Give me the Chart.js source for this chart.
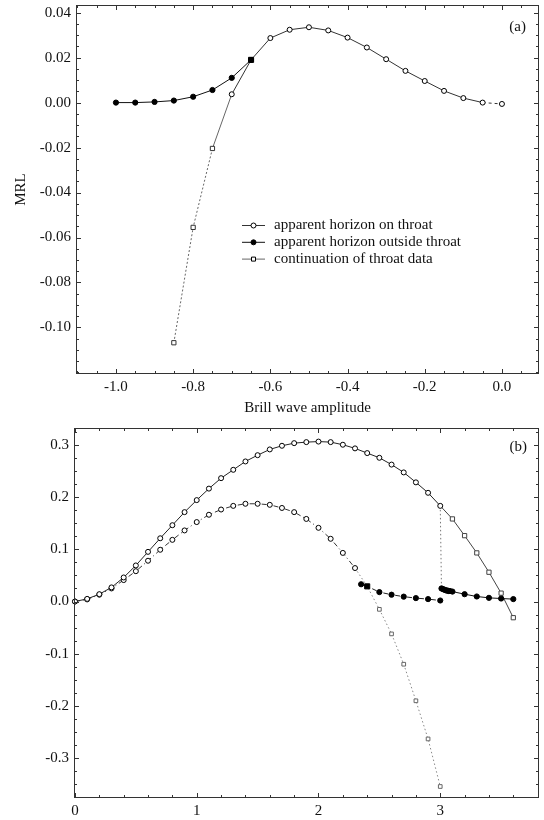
<!DOCTYPE html>
<html><head><meta charset="utf-8">
<script src="https://cdn.jsdelivr.net/npm/chart.js@4.4.1/dist/chart.umd.min.js"></script>
<style>
html,body{margin:0;padding:0;background:#fff;}
#wa{position:absolute;left:0;top:0;width:544px;height:420px;}
#wb{position:absolute;left:0;top:420px;width:544px;height:400px;}
</style></head><body>
<div id="wa"><canvas id="ca" width="544" height="420"></canvas></div>
<div id="wb"><canvas id="cb" width="544" height="400"></canvas></div>
<script>
// ---------- Panel (a) data ----------
const aOutsideX = [-1.0,-0.95,-0.9,-0.85,-0.8,-0.75,-0.7,-0.65];
const aOutsideY = [0.0,0.0,0.0003,0.0009,0.0026,0.0056,0.011,0.019];
const aThroatX = [-0.7,-0.65,-0.6,-0.55,-0.5,-0.45,-0.4,-0.35,-0.3,-0.25,-0.2,-0.15,-0.1,-0.05,0.0];
const aThroatY = [0.0037,0.019,0.0287,0.0324,0.0335,0.0321,0.0289,0.0245,0.0193,0.0141,0.0096,0.0052,0.002,0.0,-0.0006];
const aContX = [-0.85,-0.8,-0.75,-0.7];
const aContY = [-0.1068,-0.0555,-0.0204,0.0037];
const aXTicks = [-1.0,-0.8,-0.6,-0.4,-0.2,0.0];
const aYTicks = [-0.10,-0.08,-0.06,-0.04,-0.02,0.00,0.02,0.04];
const aLegend = ['apparent horizon on throat','apparent horizon outside throat','continuation of throat data'];

// ---------- Panel (b) data ----------
const bUpperX = [0.0,0.1,0.2,0.3,0.4,0.5,0.6,0.7,0.8,0.9,1.0,1.1,1.2,1.3,1.4,1.5,1.6,1.7,1.8,1.9,2.0,2.1,2.2,2.3,2.4,2.5,2.6,2.7,2.8,2.9,3.0];
const bUpperY = [0.0,0.005,0.014,0.027,0.046,0.069,0.095,0.121,0.146,0.171,0.194,0.216,0.236,0.252,0.268,0.280,0.291,0.298,0.303,0.305,0.306,0.305,0.300,0.293,0.284,0.275,0.262,0.247,0.228,0.208,0.183];
const bUpperContX = [3.0,3.1,3.2,3.3,3.4,3.5,3.6];
const bUpperContY = [0.183,0.158,0.126,0.093,0.056,0.016,-0.031];
const bUpperJumpX = [3.0,3.01];
const bUpperJumpY = [0.183,0.025];
const bUpperOutX = [3.01,3.02,3.03,3.04,3.05,3.06,3.07,3.08,3.1,3.2,3.3,3.4,3.5,3.6];
const bUpperOutY = [0.025,0.024,0.023,0.022,0.021,0.021,0.020,0.020,0.019,0.014,0.0096,0.007,0.0057,0.0046];
const bLowerX = [0.0,0.1,0.2,0.3,0.4,0.5,0.6,0.7,0.8,0.9,1.0,1.1,1.2,1.3,1.4,1.5,1.6,1.7,1.8,1.9,2.0,2.1,2.2,2.3];
const bLowerY = [0.0,0.004,0.013,0.025,0.041,0.058,0.078,0.099,0.118,0.136,0.152,0.166,0.176,0.183,0.187,0.187,0.185,0.179,0.171,0.158,0.141,0.120,0.093,0.064];
const bLowerOutX = [2.35,2.4,2.5,2.6,2.7,2.8,2.9,3.0];
const bLowerOutY = [0.033,0.029,0.018,0.013,0.0093,0.0065,0.0046,0.0019];
const bLowerContX = [2.3,2.4,2.5,2.6,2.7,2.8,2.9,3.0];
const bLowerContY = [0.064,0.029,-0.015,-0.062,-0.12,-0.19,-0.263,-0.354];
const bXTicks = [0,1,2,3];
const bYTicks = [-0.3,-0.2,-0.1,0.0,0.1,0.2,0.3];

const FONT = 'Liberation Serif';
const pts = (xs, ys) => xs.map((x, i) => ({x: x, y: ys[i]}));

const framePlugin = {
  id: 'frame',
  afterDatasetsDraw(chart, args, opts) {
    const {ctx, chartArea: {left, right, top, bottom}} = chart;
    const xs = chart.scales.x, ys = chart.scales.y;
    ctx.save();
    ctx.strokeStyle = '#333';
    ctx.lineWidth = 1;
    ctx.strokeRect(Math.round(left) + 0.5, Math.round(top) + 0.5, Math.round(right - left) - 1, Math.round(bottom - top) - 1);
    ctx.beginPath();
    const tickX = (v, len) => {
      const px = Math.round(xs.getPixelForValue(v)) + 0.5;
      if (px < left || px > right) return;
      ctx.moveTo(px, bottom); ctx.lineTo(px, bottom - len);
      ctx.moveTo(px, top); ctx.lineTo(px, top + len);
    };
    const tickY = (v, len) => {
      const py = Math.round(ys.getPixelForValue(v)) + 0.5;
      if (py < top || py > bottom) return;
      ctx.moveTo(left, py); ctx.lineTo(left + len, py);
      ctx.moveTo(right, py); ctx.lineTo(right - len, py);
    };
    opts.xTicks.forEach(v => tickX(v, 5));
    opts.yTicks.forEach(v => tickY(v, 5));
    {
      const k = Math.ceil(xs.min / opts.xMinor - 1e-6);
      for (let j = k; j * opts.xMinor <= xs.max; j++) tickX(j * opts.xMinor, 3);
    }
    {
      const k = Math.ceil(ys.min / opts.yMinor - 1e-6);
      for (let j = k; j * opts.yMinor <= ys.max; j++) tickY(j * opts.yMinor, 3);
    }
    ctx.stroke();
    ctx.fillStyle = '#111';
    ctx.font = '15px "' + FONT + '"';
    ctx.textAlign = 'right';
    ctx.textBaseline = 'middle';
    ctx.fillText(opts.label, right - opts.labelDx, top + opts.labelDy);
    ctx.restore();
  }
};

const legendPlugin = {
  id: 'legendA',
  afterDatasetsDraw(chart, args, opts) {
    if (!opts.items) return;
    const ctx = chart.ctx;
    ctx.save();
    opts.items.forEach((it, i) => {
      const y = opts.y0 + i * opts.dy + 0.5;
      const ds = chart.data.datasets[it.ds];
      ctx.beginPath();
      ctx.strokeStyle = ds.borderColor;
      ctx.lineWidth = 1;
      ctx.setLineDash([]);
      ctx.moveTo(opts.x0, y); ctx.lineTo(opts.x1, y);
      ctx.stroke();
      const mx = (opts.x0 + opts.x1) / 2;
      ctx.beginPath();
      ctx.fillStyle = it.fill;
      ctx.strokeStyle = '#000';
      if (it.shape === 'rect') {
        ctx.rect(mx - 2, y - 2, 4, 4);
      } else {
        ctx.arc(mx, y, 2.5, 0, Math.PI * 2);
      }
      ctx.fill(); ctx.stroke();
      ctx.fillStyle = '#111';
      ctx.font = '15px "' + FONT + '"';
      ctx.textAlign = 'left';
      ctx.textBaseline = 'middle';
      ctx.fillText(aLegend[i], opts.tx, y);
    });
    ctx.restore();
  }
};

const tickFont = {family: FONT, size: 15};
const noPad = s => { s.paddingTop = 0; s.paddingBottom = 0; s.paddingLeft = 0; s.paddingRight = 0; };

function makeScales(cfg) {
  return {
    x: {
      type: 'linear', min: cfg.xmin, max: cfg.xmax,
      grid: {display: false, drawTicks: false}, border: {display: false},
      ticks: {font: tickFont, color: '#111', padding: cfg.xpad, maxRotation: 0, autoSkip: false,
        callback: v => cfg.xfmt(v)},
      afterBuildTicks: s => { s.ticks = cfg.xticks.map(v => ({value: v})); },
      afterFit: s => { s.height = cfg.xh; noPad(s); },
      title: cfg.xtitle ? {display: true, text: cfg.xtitle, font: {family: FONT, size: 15}, color: '#111', padding: {top: 0, bottom: 3}} : {display: false}
    },
    y: {
      type: 'linear', min: cfg.ymin, max: cfg.ymax,
      grid: {display: false, drawTicks: false}, border: {display: false},
      ticks: {font: tickFont, color: '#111', padding: 5, autoSkip: false,
        callback: v => cfg.yfmt(v)},
      afterBuildTicks: s => { s.ticks = cfg.yticks.map(v => ({value: v})); },
      afterFit: s => { s.width = cfg.yw; noPad(s); },
      title: cfg.ytitle ? {display: true, text: cfg.ytitle, font: {family: FONT, size: 15}, color: '#111', padding: {top: 12, bottom: 0}} : {display: false}
    }
  };
}

const openCircle = {pointStyle: 'circle', pointRadius: 2.5, pointBackgroundColor: '#fff', pointBorderColor: '#000', pointBorderWidth: 1};
const fillCircle = {pointStyle: 'circle', pointRadius: 2.6, pointBackgroundColor: '#000', pointBorderColor: '#000', pointBorderWidth: 1};

// ---------- Chart (a) ----------
new Chart(document.getElementById('ca'), {
  type: 'line',
  data: {datasets: [
    Object.assign({label: aLegend[1], data: pts(aOutsideX, aOutsideY), borderColor: '#111', borderWidth: 1, showLine: true, clip: false,
      pointStyle: aOutsideX.map((x, i) => i === aOutsideX.length - 1 ? 'rect' : 'circle'),
      pointRadius: aOutsideX.map((x, i) => i === aOutsideX.length - 1 ? 3.6 : 2.6)}, {pointBackgroundColor: '#000', pointBorderColor: '#000', pointBorderWidth: 1}),
    Object.assign({label: aLegend[0], data: pts(aThroatX, aThroatY), borderColor: '#333', borderWidth: 1, showLine: true, clip: false,
      segment: {borderDash: c => c.p0DataIndex === aThroatX.length - 2 ? [3, 3] : undefined}}, openCircle),
    {label: aLegend[2], data: pts(aContX, aContY), borderColor: '#666', borderWidth: 1, showLine: true, clip: false,
      segment: {borderDash: c => c.p0DataIndex < aContX.length - 2 ? [2, 2] : undefined},
      pointStyle: 'rect', pointRadius: aContX.map((x, i) => i === aContX.length - 1 ? 0 : 3), pointBackgroundColor: '#fff', pointBorderColor: '#333', pointBorderWidth: 1}
  ]},
  options: {
    responsive: false, animation: false, devicePixelRatio: 1,
    layout: {padding: {top: 4, right: 3, left: 0, bottom: 0}},
    plugins: {legend: {display: false}, tooltip: {enabled: false},
      frame: {xTicks: aXTicks, yTicks: aYTicks, xMinor: 0.05, yMinor: 0.005, label: '(a)', labelDx: 13, labelDy: 22},
      legendA: {items: [{ds: 1, fill: '#fff', shape: 'circle'}, {ds: 0, fill: '#000', shape: 'circle'}, {ds: 2, fill: '#fff', shape: 'rect'}],
        x0: 242, x1: 265, tx: 274, y0: 225, dy: 16.8}},
    scales: makeScales({xmin: -1.1035, xmax: 0.096, ymin: -0.1207, ymax: 0.0434, xticks: aXTicks, yticks: aYTicks,
      xfmt: v => v.toFixed(1), yfmt: v => v.toFixed(2), xh: 46, yw: 76, xpad: 4,
      xtitle: 'Brill wave amplitude', ytitle: 'MRL'})
  },
  plugins: [framePlugin, legendPlugin]
});

// ---------- Chart (b) ----------
new Chart(document.getElementById('cb'), {
  type: 'line',
  data: {datasets: [
    Object.assign({label: 'upper outside', data: pts(bUpperOutX, bUpperOutY), borderColor: '#111', borderWidth: 1, showLine: true, clip: false}, fillCircle),
    Object.assign({label: 'lower outside', data: pts(bLowerOutX, bLowerOutY), borderColor: '#222', borderWidth: 1, borderDash: [5, 3, 1, 3], showLine: true, clip: false,
      pointStyle: bLowerOutX.map((x, i) => i === 1 ? 'rect' : 'circle'),
      pointRadius: bLowerOutX.map((x, i) => i === 1 ? 3.6 : 2.6)}, {pointBackgroundColor: '#000', pointBorderColor: '#000', pointBorderWidth: 1}),
    Object.assign({label: 'upper throat', data: pts(bUpperX, bUpperY), borderColor: '#222', borderWidth: 1, showLine: true, clip: false}, openCircle),
    Object.assign({label: 'lower throat', data: pts(bLowerX, bLowerY), borderColor: '#333', borderWidth: 1, borderDash: [5, 3, 1, 3], showLine: true, clip: false}, openCircle),
    {label: 'upper continuation', data: pts(bUpperContX, bUpperContY), borderColor: '#444', borderWidth: 1, showLine: true, clip: false,
      pointStyle: 'rect', pointRadius: bUpperContX.map((x, i) => i === 0 ? 0 : 3), pointBackgroundColor: '#fff', pointBorderColor: '#444', pointBorderWidth: 1},
    {label: 'lower continuation', data: pts(bLowerContX, bLowerContY), borderColor: '#888', borderWidth: 1, borderDash: [1.5, 2.5], showLine: true, clip: false,
      pointStyle: 'rect', pointRadius: bLowerContX.map((x, i) => i < 2 ? 0 : 2.6), pointBackgroundColor: '#fff', pointBorderColor: '#666', pointBorderWidth: 1},
    {label: 'jump', data: pts(bUpperJumpX, bUpperJumpY), borderColor: '#777', borderWidth: 1, borderDash: [1.5, 2.5], showLine: true, pointRadius: 0, clip: false}
  ]},
  options: {
    responsive: false, animation: false, devicePixelRatio: 1,
    layout: {padding: {top: 8, right: 4, left: 0, bottom: 0}},
    plugins: {legend: {display: false}, tooltip: {enabled: false},
      frame: {xTicks: bXTicks, yTicks: bYTicks, xMinor: 0.2, yMinor: 0.025, label: '(b)', labelDx: 12, labelDy: 19},
      legendA: {}},
    scales: makeScales({xmin: -0.008, xmax: 3.811, ymin: -0.376, ymax: 0.332, xticks: bXTicks, yticks: bYTicks,
      xfmt: v => String(Math.round(v)), yfmt: v => v.toFixed(1), xh: 22, yw: 74, xpad: 4})
  },
  plugins: [framePlugin, legendPlugin]
});
</script>
</body></html>
